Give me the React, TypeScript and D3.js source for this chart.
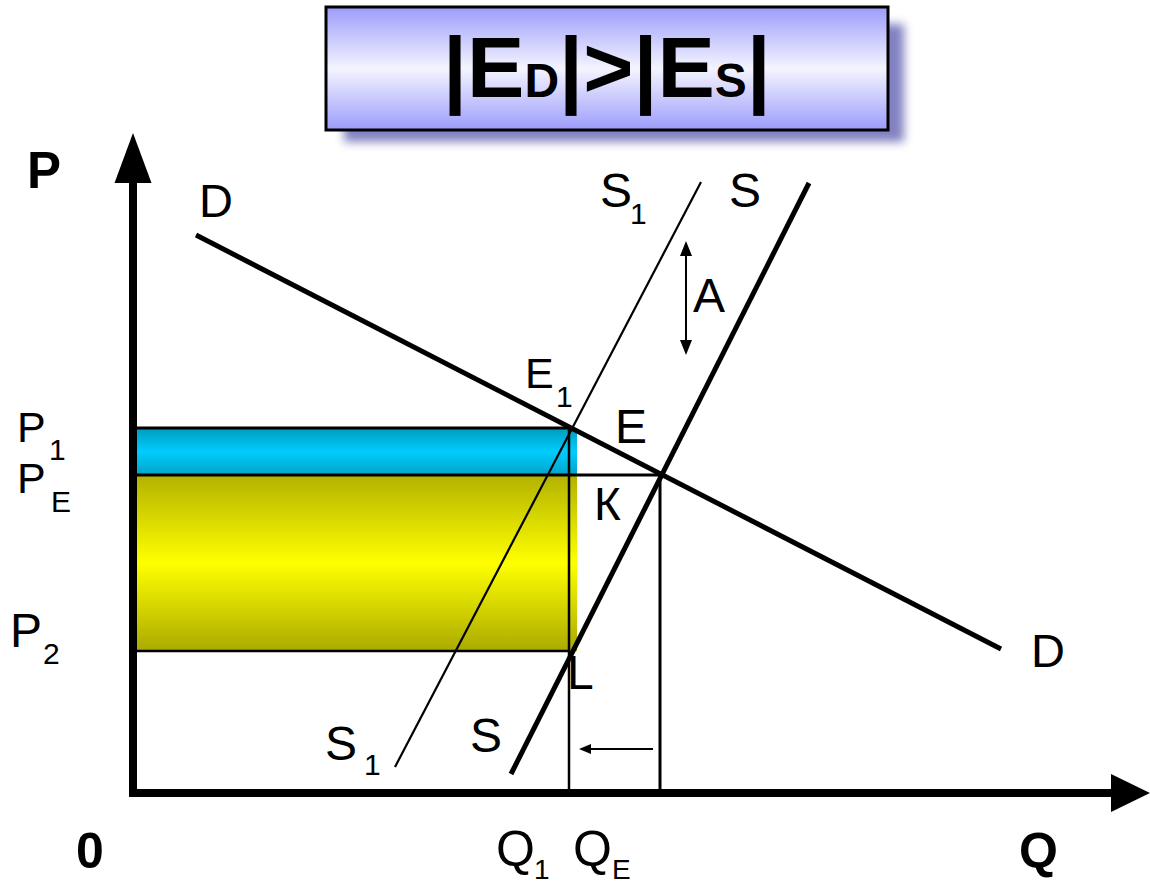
import React from "react";
import * as d3 from "d3";

// ---- data (economic units) ----
const demandLine = [
  { q: 6.3, p: 55.8 },
  { q: 86.8, p: 14.4 },
];
const supplyLine = [
  { q: 37.8, p: 1.9 },
  { q: 67.6, p: 61.0 },
];
const supply1Line = [
  { q: 26.2, p: 2.6 },
  { q: 56.8, p: 61.1 },
];
const equilibrium = { q: 52.7, p: 31.8 }; // E
const equilibrium1 = { q: 43.6, p: 36.5 }; // E1
const priceP2 = 14.2;
const quantityQ1 = 43.6;
const shadeRight = 44.4;
const axisMaxQ = 101.7;
const axisMaxP = 66;

const W = 1150;
const H = 887;

const x = d3.scaleLinear().domain([0, 100]).range([133, 1133]);
const y = d3.scaleLinear().domain([0, 65]).range([793, 143]);

type Pt = { q: number; p: number };
const line = d3
  .line<Pt>()
  .x((d) => x(d.q))
  .y((d) => y(d.p));

const FONT = "'Liberation Sans', Arial, Helvetica, sans-serif";

function Lbl({ x: lx, y: ly, t, size = 48, bold = false }: { x: number; y: number; t: string; size?: number; bold?: boolean }) {
  return (
    <text x={lx} y={ly} fontSize={size} fontWeight={bold ? "bold" : "normal"} fontFamily={FONT} fill="#000">
      {t}
    </text>
  );
}

export default function App() {
  const ox = x(0);
  const oy = y(0);
  const xE = x(equilibrium.q);
  const yE = y(equilibrium.p);
  const xE1 = x(equilibrium1.q);
  const yE1 = y(equilibrium1.p);
  const yP2 = y(priceP2);
  const xQ1 = x(quantityQ1);
  const xShadeR = x(shadeRight);

  const yTip = y(axisMaxP);
  const xTip = x(axisMaxQ);

  return (
    <svg
      width={W}
      height={H}
      viewBox={`0 0 ${W} ${H}`}
      style={{ position: "absolute", left: 0, top: 0, display: "block", background: "#fff" }}
    >
      <defs>
        <linearGradient id="titleGrad" x1="0" y1="0" x2="0" y2="1">
          <stop offset="0" stopColor="#9c9cfb" />
          <stop offset="0.5" stopColor="#f4f4ff" />
          <stop offset="1" stopColor="#9c9cfb" />
        </linearGradient>
        <linearGradient id="cyanGrad" x1="0" y1="0" x2="0" y2="1">
          <stop offset="0" stopColor="#009cbc" />
          <stop offset="0.5" stopColor="#00ccff" />
          <stop offset="1" stopColor="#00a4c8" />
        </linearGradient>
        <linearGradient id="yellowGrad" x1="0" y1="0" x2="0" y2="1">
          <stop offset="0" stopColor="#b2b200" />
          <stop offset="0.5" stopColor="#ffff00" />
          <stop offset="1" stopColor="#aaaa00" />
        </linearGradient>
        <filter id="blur" x="-10%" y="-20%" width="120%" height="140%">
          <feGaussianBlur stdDeviation="5" />
        </filter>
      </defs>

      {/* title box */}
      <rect x={344} y={24} width={560} height={118} fill="#8282c2" filter="url(#blur)" />
      <rect x={326} y={7} width={562} height={123} fill="url(#titleGrad)" stroke="#000" strokeWidth={3} />
      <text x={443} y={97} fontFamily={FONT} fontWeight="bold" fill="#000">
        <tspan fontSize={86}>|E</tspan>
        <tspan fontSize={48}>D</tspan>
        <tspan fontSize={86}>|&gt;|E</tspan>
        <tspan fontSize={48}>S</tspan>
        <tspan fontSize={86}>|</tspan>
      </text>

      {/* shaded areas */}
      <rect x={ox + 4} y={yE1} width={xShadeR - ox - 4} height={yE - yE1} fill="url(#cyanGrad)" />
      <rect x={ox + 4} y={yE} width={xShadeR - ox - 4} height={yP2 - yE} fill="url(#yellowGrad)" />

      {/* guide lines */}
      <line x1={ox} x2={xE1} y1={yE1} y2={yE1} stroke="#000" strokeWidth={3} />
      <line x1={ox} x2={xE} y1={yE} y2={yE} stroke="#000" strokeWidth={3} />
      <line x1={ox - 4} x2={xQ1} y1={yP2} y2={yP2} stroke="#000" strokeWidth={2.5} />
      <line x1={xQ1} x2={xQ1} y1={yE1} y2={oy} stroke="#000" strokeWidth={2.5} />
      <line x1={xE} x2={xE} y1={yE} y2={oy} stroke="#000" strokeWidth={3} />

      {/* curves */}
      <path d={line(supply1Line) ?? ""} stroke="#000" strokeWidth={2.2} fill="none" />
      <path d={line(supplyLine) ?? ""} stroke="#000" strokeWidth={5} fill="none" />
      <path d={line(demandLine) ?? ""} stroke="#000" strokeWidth={5} fill="none" />

      {/* axes */}
      <line x1={ox} x2={ox} y1={oy + 4} y2={yTip + 30} stroke="#000" strokeWidth={8} />
      <path d={`M${ox},${yTip} L${ox - 18.5},${yTip + 50} L${ox + 18.5},${yTip + 50} Z`} fill="#000" />
      <line x1={ox - 4} x2={xTip - 20} y1={oy} y2={oy} stroke="#000" strokeWidth={8} />
      <path d={`M${xTip},${oy} L${xTip - 39},${oy - 19} L${xTip - 39},${oy + 19} Z`} fill="#000" />

      {/* shift arrow A */}
      <line x1={686} x2={686} y1={250} y2={346} stroke="#000" strokeWidth={2} />
      <path d="M686,241 L680,256 L692,256 Z" fill="#000" />
      <path d="M686,355 L680,340 L692,340 Z" fill="#000" />

      {/* quantity shift arrow */}
      <line x1={653} x2={588} y1={749} y2={749} stroke="#000" strokeWidth={2} />
      <path d="M579,749 L591,744 L591,754 Z" fill="#000" />

      {/* labels */}
      <Lbl x={27} y={188} t="P" size={51} bold />
      <Lbl x={199} y={217} t="D" size={47} />
      <Lbl x={600} y={207} t="S" />
      <Lbl x={630} y={224} t="1" size={30} />
      <Lbl x={729} y={207} t="S" />
      <Lbl x={693} y={312} t="A" />
      <Lbl x={525} y={388} t="E" size={43} />
      <Lbl x={556} y={407} t="1" size={30} />
      <Lbl x={615} y={443} t="E" />
      <Lbl x={594} y={520} t="К" size={46} />
      <Lbl x={567} y={689} t="L" />
      <Lbl x={1031} y={667} t="D" size={47} />
      <Lbl x={325} y={760} t="S" />
      <Lbl x={364} y={775} t="1" size={30} />
      <Lbl x={470} y={752} t="S" />

      <Lbl x={17} y={442} t="P" size={43} />
      <Lbl x={49} y={460} t="1" size={30} />
      <Lbl x={17} y={493} t="P" size={43} />
      <Lbl x={51} y={512} t="E" size={30} />
      <Lbl x={10} y={647} t="P" size={48} />
      <Lbl x={43} y={664} t="2" size={30} />

      <Lbl x={76} y={868} t="0" size={50} bold />
      <Lbl x={496} y={866} t="Q" size={50} />
      <Lbl x={534} y={879} t="1" size={28} />
      <Lbl x={573} y={866} t="Q" size={50} />
      <Lbl x={612} y={879} t="E" size={28} />
      <Lbl x={1019} y={868} t="Q" size={50} bold />
    </svg>
  );
}
